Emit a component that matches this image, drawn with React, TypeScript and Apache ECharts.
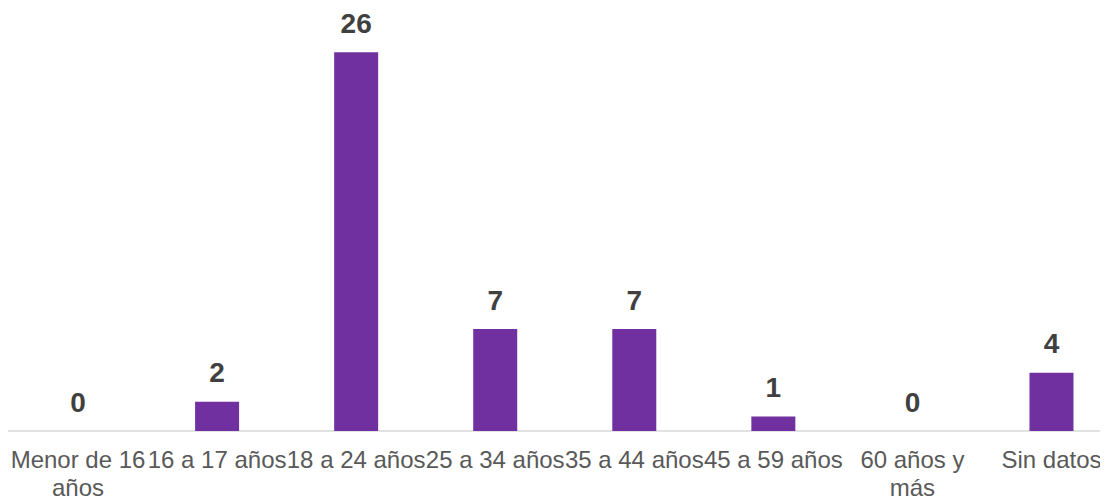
import React, { useEffect, useRef } from "react";
import * as echarts from "echarts";

const categories = [
  "Menor de 16\naños",
  "16 a 17 años",
  "18 a 24 años",
  "25 a 34 años",
  "35 a 44 años",
  "45 a 59 años",
  "60 años y\nmás",
  "Sin datos",
];
const values = [0, 2, 26, 7, 7, 1, 0, 4];

const FONT = "'Liberation Sans', Arial, sans-serif";

export default function App() {
  const ref = useRef<HTMLDivElement>(null);
  useEffect(() => {
    const chart = echarts.init(ref.current!, null, { renderer: "svg" });
    chart.setOption({
      animation: false,
      grid: {
        left: 0.5,
        right: 0,
        top: 15,
        bottom: 66,
        containLabel: false,
        outerBoundsMode: "none",
      },
      xAxis: {
        type: "category",
        data: categories,
        axisLine: { lineStyle: { color: "#d9d9d9", width: 1.5 } },
        axisTick: { show: false },
        axisLabel: {
          interval: 0,
          color: "#595959",
          fontSize: 24,
          fontFamily: FONT,
          lineHeight: 28,
          margin: 14,
        },
      },
      yAxis: {
        type: "value",
        min: 0,
        max: 28,
        show: false,
        splitLine: { show: false },
      },
      series: [
        {
          type: "bar",
          data: values,
          barWidth: 44,
          itemStyle: { color: "#7030A0" },
          label: {
            show: true,
            position: "top",
            distance: 15,
            color: "#404040",
            fontSize: 28,
            fontWeight: "bold",
            fontFamily: FONT,
          },
        },
      ],
    });
    return () => chart.dispose();
  }, []);
  return (
    <div style={{ width: 1100, height: 489, overflow: "hidden" }}>
      <div ref={ref} style={{ width: 1113, height: 489 }} />
    </div>
  );
}
